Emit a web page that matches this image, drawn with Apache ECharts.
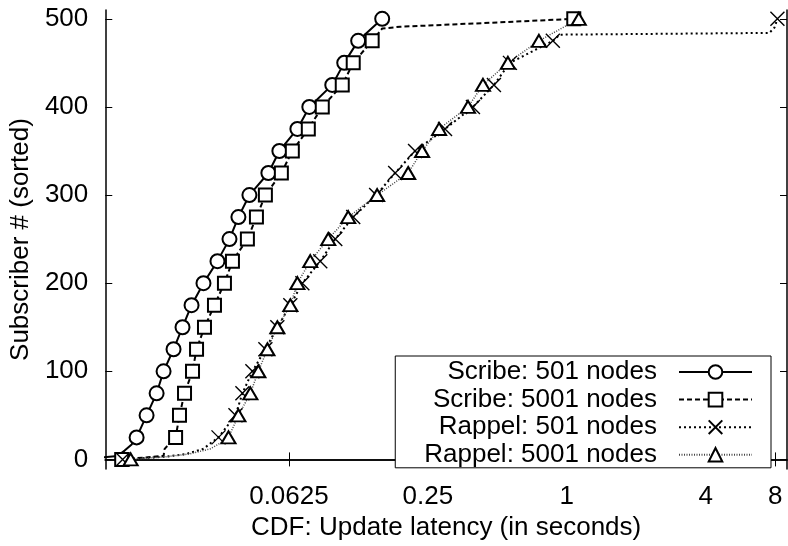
<!DOCTYPE html>
<html>
<head>
<meta charset="utf-8">
<script src="https://cdn.jsdelivr.net/npm/echarts@6/dist/echarts.min.js"></script>
<style>html,body{margin:0;padding:0;background:#fff;}#c{width:788px;height:546px;}</style>
</head>
<body>
<div id="c"></div>
<script>
const xTickValues = [0.0625, 0.25, 1, 4, 8];
const xTickLabels = ['0.0625', '0.25', '1', '4', '8'];
const yTickValues = [0, 100, 200, 300, 400, 500];
const seriesNames = ['Scribe: 501 nodes', 'Scribe: 5001 nodes', 'Rappel: 501 nodes', 'Rappel: 5001 nodes'];

const scribe501Latency = [0.00936, 0.01131, 0.01213, 0.01301, 0.01367, 0.01510, 0.01669, 0.01789, 0.01976, 0.02161, 0.02365, 0.02664, 0.03063, 0.03453, 0.03775, 0.04213, 0.05091, 0.05681, 0.0680, 0.0766, 0.0963, 0.1085, 0.1247, 0.1585];
const scribe501Rank = [2, 4, 10, 17, 25, 50, 75, 100, 125, 150, 175, 200, 225, 250, 275, 300, 325, 350, 375, 400, 425, 450, 475, 500];

const scribe5001Latency = [0.01178, 0.01789, 0.01808, 0.02017, 0.02097, 0.02205, 0.02388, 0.02486, 0.02691, 0.02973, 0.03284, 0.03557, 0.04129, 0.04519, 0.04941, 0.05795, 0.06465, 0.07583, 0.08717, 0.1064, 0.1187, 0.1434, 0.1585, 0.1896, 0.513, 1.072];
const scribe5001Rank = [0, 4, 12, 25, 50, 75, 100, 125, 150, 175, 200, 225, 250, 275, 300, 325, 350, 375, 400, 425, 450, 475, 489, 491, 496, 500];

const rappel501Latency = [0.01189, 0.01808, 0.02227, 0.02664, 0.02914, 0.03095, 0.03666, 0.03929, 0.04340, 0.04941, 0.05567, 0.06338, 0.07145, 0.08543, 0.09923, 0.1187, 0.1492, 0.1804, 0.2200, 0.2967, 0.392, 0.4833, 0.567, 0.870, 0.933, 7.55, 7.94, 8.18];
const rappel501Rank = [0, 3, 6, 12, 20, 25, 50, 75, 100, 125, 150, 175, 200, 225, 250, 275, 300, 325, 350, 375, 400, 425, 450, 475, 482, 484, 490, 500];

const rappel5001Latency = [0.01288, 0.01825, 0.02296, 0.02858, 0.03219, 0.03420, 0.03775, 0.04254, 0.04607, 0.05042, 0.05567, 0.06338, 0.0680, 0.0773, 0.0925, 0.1129, 0.1507, 0.2054, 0.2360, 0.2796, 0.3732, 0.4332, 0.5556, 0.757, 1.127];
const rappel5001Rank = [0, 3, 6, 12, 20, 25, 50, 75, 100, 125, 150, 175, 200, 225, 250, 275, 300, 325, 350, 375, 400, 425, 450, 475, 500];

const FONT = 'Liberation Sans, Arial, Helvetica, sans-serif';
const FS = 26;

function build(lat, rank) {
  return lat.map((x, i) => {
    const item = { value: [x, rank[i]] };
    if (rank[i] % 25 !== 0) item.symbol = 'none';
    return item;
  });
}

const chart = echarts.init(document.getElementById('c'), null, { renderer: 'canvas' });

const xMin = 0.01, xMax = 9, yMin = -11, yMax = 510;

function labelFor(v) {
  let best = 0, bd = Infinity;
  xTickValues.forEach((t, i) => { const d = Math.abs(Math.log(t) - Math.log(v)); if (d < bd) { bd = d; best = i; } });
  return xTickLabels[best];
}

const axisLineStyle = { color: '#000', width: 1.5 };

chart.setOption({
  animation: false,
  backgroundColor: '#fff',
  grid: { left: 104, right: 1, top: 10, bottom: 70, containLabel: false },
  xAxis: [{
    type: 'log', logBase: 2, min: xMin, max: xMax, position: 'bottom',
    name: 'CDF: Update latency (in seconds)', nameLocation: 'middle', nameGap: 41,
    nameTextStyle: { fontFamily: FONT, fontSize: FS, color: '#000' },
    axisLine: { show: true, lineStyle: axisLineStyle },
    axisTick: { show: true, inside: true, length: 7, customValues: xTickValues, lineStyle: { color: '#000', width: 1 } },
    axisLabel: { show: true, customValues: xTickValues, margin: 15, fontFamily: FONT, fontSize: FS, color: '#000', formatter: v => labelFor(v) },
    splitLine: { show: false }, minorTick: { show: false }
  }, {
    type: 'log', logBase: 2, min: xMin, max: xMax, position: 'top',
    axisLine: { show: true, lineStyle: axisLineStyle },
    axisTick: { show: true, inside: true, length: 7, customValues: xTickValues, lineStyle: { color: '#000', width: 1 } },
    axisLabel: { show: false }, splitLine: { show: false }
  }],
  yAxis: [{
    type: 'value', min: yMin, max: yMax, position: 'left',
    name: 'Subscriber # (sorted)', nameLocation: 'middle', nameGap: 66, nameRotate: 90,
    nameTextStyle: { fontFamily: FONT, fontSize: FS, color: '#000' },
    axisLine: { show: true, lineStyle: axisLineStyle },
    axisTick: { show: true, inside: true, length: 7, customValues: yTickValues, lineStyle: { color: '#000', width: 1 } },
    axisLabel: { show: true, customValues: yTickValues, margin: 17, fontFamily: FONT, fontSize: FS, color: '#000' },
    splitLine: { show: false }
  }, {
    type: 'value', min: yMin, max: yMax, position: 'right',
    axisLine: { show: true, lineStyle: axisLineStyle },
    axisTick: { show: true, inside: true, length: 7, customValues: yTickValues, lineStyle: { color: '#000', width: 1 } },
    axisLabel: { show: false }, splitLine: { show: false }
  }],
  legend: {
    orient: 'vertical', right: 17, top: 356, align: 'right',
    data: seriesNames,
    itemWidth: 73, itemHeight: 17, itemGap: 1.6,
    padding: [3, 18, 0, 29],
    borderColor: '#000', borderWidth: 1, backgroundColor: '#fff',
    textStyle: { fontFamily: FONT, fontSize: FS, color: '#000', padding: [0, 17, 0, 0] }
  },
  series: [{
    name: seriesNames[0], type: 'line', data: build(scribe501Latency, scribe501Rank),
    symbol: 'emptyCircle', symbolSize: 14, showAllSymbol: true, clip: true,
    lineStyle: { color: '#000', width: 2, type: 'solid' },
    itemStyle: { color: '#000', borderWidth: 1.2 }
  }, {
    name: seriesNames[1], type: 'line', data: build(scribe5001Latency, scribe5001Rank),
    symbol: 'emptyRect', symbolSize: 13, showAllSymbol: true, clip: true,
    lineStyle: { color: '#000', width: 2, type: [5, 3] },
    itemStyle: { color: '#000', borderWidth: 1.2 }
  }, {
    name: seriesNames[2], type: 'line', data: build(rappel501Latency, rappel501Rank),
    symbol: 'path://M0,0L10,10M10,0L0,10', symbolSize: 14, showAllSymbol: true, clip: true,
    lineStyle: { color: '#000', width: 2, type: [2, 3] },
    itemStyle: { color: '#000', borderColor: '#000', borderWidth: 1.4 }
  }, {
    name: seriesNames[3], type: 'line', data: build(rappel5001Latency, rappel5001Rank),
    symbol: 'emptyTriangle', symbolSize: [14, 12], showAllSymbol: true, clip: true,
    lineStyle: { color: '#444', width: 1.5, type: [1, 1.5] },
    itemStyle: { color: '#000', borderWidth: 1.2 }
  }]
});
</script>
</body>
</html>
